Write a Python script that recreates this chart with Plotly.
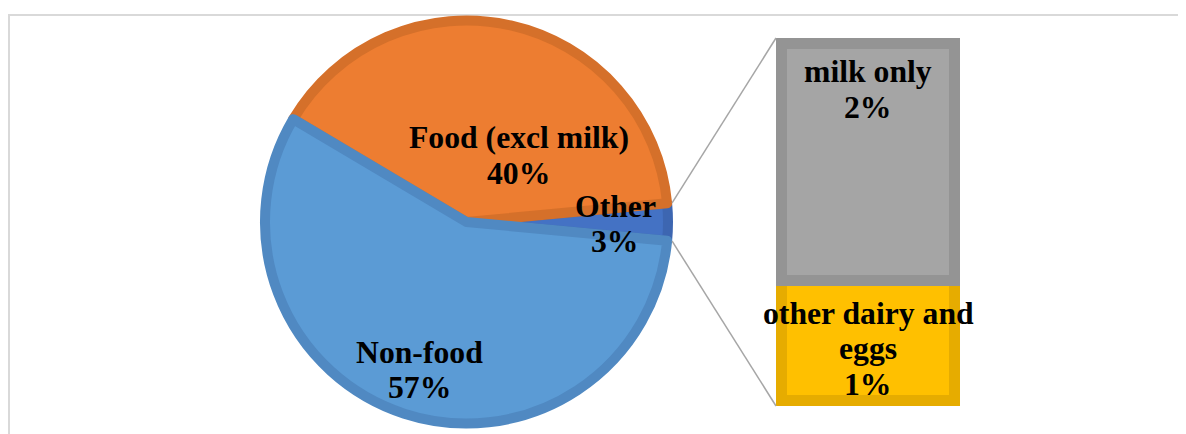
import math
import plotly.graph_objects as go

# ---------------- data ----------------
pie_labels = ["Other", "Food (excl milk)", "Non-food"]
pie_values = [2.95, 40.0, 57.05]          # percent of expenditure
bar_labels = ["other dairy and<br>eggs", "milk only"]   # bottom -> top
bar_values = [0.99, 1.96]                 # breakdown of "Other"

pie_colors = ["#4472C4", "#ED7D31", "#5B9BD5"]
pie_line_colors = ["#3D66B1", "#D5702A", "#5089C2"]
bar_colors = ["#FFC000", "#A5A5A5"]
bar_line_colors = ["#E6AC00", "#949494"]

# ---------------- layout constants (pixels in the page) ----------------
OFF = 8                      # browser body margin
W, H = 1186 - OFF, 434 - OFF
PIE_CX, PIE_CY, PIE_R_OUT = 466.5, 222.0, 206.5
PIE_LW = 10
pie_r = PIE_R_OUT - PIE_LW / 2
BAR_X0, BAR_X1, BAR_Y0, BAR_Y1 = 776, 960, 38, 406   # outer edges incl. border
BAR_LW = 11


def px(x):
    return (x - OFF) / W


def py(y):
    return 1 - (y - OFF) / H


total = sum(pie_values)
other_share = pie_values[0] / total
half_angle = other_share * 180.0   # degrees, Other slice centred on 3 o'clock

fig = go.Figure()

fig.add_trace(go.Pie(
    labels=pie_labels,
    values=pie_values,
    sort=False,
    direction="counterclockwise",
    rotation=90 - half_angle,
    textinfo="none",
    hoverinfo="label+percent",
    marker=dict(colors=pie_colors, line=dict(color=pie_line_colors, width=PIE_LW)),
    domain=dict(x=[px(PIE_CX - pie_r), px(PIE_CX + pie_r)],
                y=[py(PIE_CY + pie_r), py(PIE_CY - pie_r)]),
    showlegend=False,
))

for name, val, col, lcol in zip(bar_labels, bar_values, bar_colors, bar_line_colors):
    fig.add_trace(go.Bar(
        x=[0], y=[val], width=[1], name=name.replace("<br>", " "),
        marker=dict(color=col, line=dict(color=lcol, width=BAR_LW)),
        xaxis="x", yaxis="y", showlegend=False,
    ))

half = BAR_LW / 2
bar_total = sum(bar_values)
kx = 1.0 / ((BAR_X1 - BAR_X0) - BAR_LW)          # data units per px
ky = bar_total / ((BAR_Y1 - BAR_Y0) - BAR_LW)
fig.update_layout(
    width=W, height=H,
    margin=dict(l=0, r=0, t=0, b=0),
    paper_bgcolor="white", plot_bgcolor="rgba(0,0,0,0)",
    barmode="stack",
    xaxis=dict(domain=[px(BAR_X0), px(BAR_X1)], range=[-0.5 - half * kx, 0.5 + half * kx],
               visible=False, fixedrange=True),
    yaxis=dict(domain=[py(BAR_Y1), py(BAR_Y0)], range=[-half * ky, bar_total + half * ky],
               visible=False, fixedrange=True),
)

# chart frame
fig.add_shape(type="rect", xref="paper", yref="paper",
              x0=px(9), x1=px(1186 + 20), y0=py(434 + 20), y1=py(15),
              line=dict(color="#D9D9D9", width=2), fillcolor="rgba(0,0,0,0)", layer="below")

# connector lines from Other slice to the bar
a = math.radians(half_angle)
sx = PIE_CX + PIE_R_OUT * math.cos(a)
sy_top = PIE_CY - PIE_R_OUT * math.sin(a)
sy_bot = PIE_CY + PIE_R_OUT * math.sin(a)
for sy, ey in [(sy_top, BAR_Y0), (sy_bot, BAR_Y1)]:
    fig.add_shape(type="line", xref="paper", yref="paper",
                  x0=px(sx), y0=py(sy), x1=px(BAR_X0), y1=py(ey),
                  line=dict(color="#A6A6A6", width=1.5))

# labels
font = dict(family="Liberation Serif, Times New Roman, serif", size=31.7, color="black", weight="bold")
LINE = 35.5


def pct(v):
    return f"{round(v):d}%"


label_pos = {
    "Food (excl milk)": (518.5, 138),
    "Other": (615, 206),
    "Non-food": (419, 352),
    "milk only": (868, 72),
    "other dairy and<br>eggs": (868, 313),
}
items = list(zip(pie_labels, pie_values)) + list(zip(bar_labels, bar_values))
for name, val in items:
    cx, cy = label_pos[name]
    lines = name.split("<br>") + [pct(val)]
    for i, t in enumerate(lines):
        fig.add_annotation(x=px(cx), y=py(cy + i * LINE), xref="paper", yref="paper",
                           text=t, showarrow=False, font=font,
                           xanchor="center", yanchor="middle")

fig.write_html("out.html")
